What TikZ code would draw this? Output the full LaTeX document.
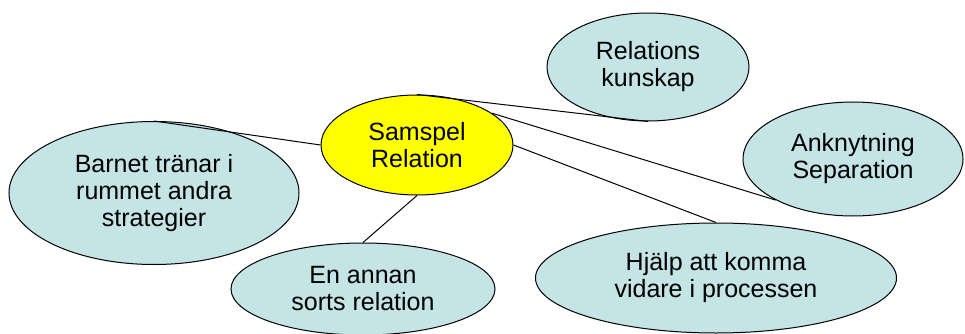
\documentclass[tikz,border=0pt]{standalone}
\usepackage{fontspec}
\setmainfont{Liberation Sans}
\usetikzlibrary{shapes.geometric}
\definecolor{OvalBlue}{HTML}{C4E4E6}
\definecolor{OvalYellow}{HTML}{FFFF00}
\newcommand{\drawoval}{\node[draw,ellipse,fill=OvalBlue,inner sep=0,align=center]}
\newcommand{\drawhub}{\node[draw,ellipse,fill=OvalYellow,inner sep=0,align=center]}

\begin{document}
\begin{tikzpicture}[x=1pt,y=-1pt, line width=1pt, every node/.style={font=\fontsize{25}{27}\selectfont}]
\useasboundingbox (0,0) rectangle (965,334);
%mind map around the yellow hub
\drawoval[minimum width=202pt,minimum height=108pt] (rel) at (648,67) {Relations\\kunskap};
\drawoval[minimum width=220pt,minimum height=114pt] (ank) at (853,159) {Anknytning\\Separation};
\drawoval[minimum width=290pt,minimum height=143pt] (barn) at (154,193) {Barnet tränar i\\rummet andra\\strategier};
\drawoval[minimum width=264pt,minimum height=92pt] (annan) at (363,289) {En annan\\sorts relation};
\drawoval[minimum width=361pt,minimum height=110pt] (hjalp) at (716,278) {Hjälp att komma\\vidare i processen};
\drawhub[minimum width=192pt,minimum height=100pt] (hub) at (417,145) {Samspel\\Relation};

\draw (hub.west) to (barn.north);
\draw (hub.south) to (annan.north);
\draw (hub.north) to (rel.south);
\draw (hub.23) to (ank.208);
\draw (hub.east) to (hjalp.north);

\end{tikzpicture}
\end{document}
